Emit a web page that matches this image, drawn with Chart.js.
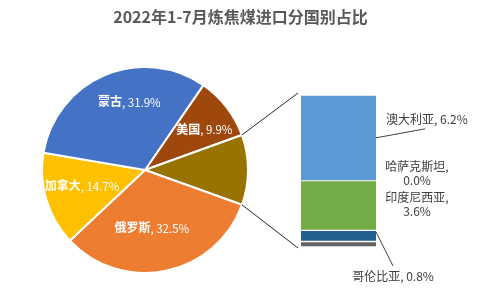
<!DOCTYPE html>
<html>
<head>
<meta charset="utf-8">
<script src="https://cdn.jsdelivr.net/npm/chart.js@4/dist/chart.umd.min.js"></script>
<style>
  html, body { margin: 0; padding: 0; background: #fff; }
  #wrap { position: relative; width: 481px; height: 308px; }
  #wrap canvas { position: absolute; left: 0; top: 0; }
</style>
</head>
<body>
<div id="wrap">
  <canvas id="pieChart" width="481" height="308" style="width:481px;height:308px"></canvas>
  <canvas id="barChart" width="481" height="308" style="width:481px;height:308px"></canvas>
</div>
<script>
const title = "2022年1-7月炼焦煤进口分国别占比";

// pie, clockwise from the 美国 slice
const pieLabels = ["美国", "其他", "俄罗斯", "加拿大", "蒙古"];
const pieValues = [9.9, 11.0, 32.5, 14.7, 31.9];
const pieColors = ["#9E480E", "#997300", "#ED7D31", "#FFC000", "#4472C4"];

// breakdown of 其他, top to bottom
const barLabels = ["澳大利亚", "哈萨克斯坦", "印度尼西亚", "哥伦比亚", "其余"];
const barValues = [6.2, 0.0, 3.6, 0.8, 0.4];
const barColors = ["#5B9BD5", "#A5A5A5", "#70AD47", "#255E91", "#636363"];

const FONT = '"Noto Sans CJK SC", "Noto Sans", sans-serif';

// where each pie label sits: share of the radius, and a turn in degrees
const pieLabelPos = {
  美国: { r: 0.70, turn: 3 },
  俄罗斯: { r: 0.56, turn: 5 },
  加拿大: { r: 0.63, turn: 3 },
  蒙古: { r: 0.68, turn: 10 },
};

const titlePlugin = {
  id: "drawTitle",
  afterDraw(chart) {
    const ctx = chart.ctx;
    ctx.save();
    ctx.font = "bold 16px " + FONT;
    ctx.fillStyle = "#595959";
    ctx.textAlign = "center";
    ctx.textBaseline = "middle";
    ctx.fillText(title, 240.5, 17);
    ctx.restore();
  },
};

const pieLabelPlugin = {
  id: "pieLabels",
  afterDraw(chart) {
    const ctx = chart.ctx;
    const meta = chart.getDatasetMeta(0);
    meta.data.forEach((arc, i) => {
      const pos = pieLabelPos[pieLabels[i]];
      if (!pos) return;
      const mid = (arc.startAngle + arc.endAngle) / 2 + (pos.turn * Math.PI) / 180;
      const r = arc.outerRadius * pos.r;
      const x = arc.x + Math.cos(mid) * r;
      const y = arc.y + Math.sin(mid) * r;
      const name = pieLabels[i];
      const val = ", " + pieValues[i].toFixed(1) + "%";
      ctx.save();
      ctx.fillStyle = "#fff";
      ctx.textBaseline = "middle";
      ctx.textAlign = "left";
      ctx.font = "bold 12px " + FONT;
      const w1 = ctx.measureText(name).width;
      ctx.font = "11.5px " + FONT;
      const w2 = ctx.measureText(val).width;
      const x0 = x - (w1 + w2) / 2;
      ctx.font = "bold 12px " + FONT;
      ctx.fillText(name, x0, y);
      ctx.font = "11.5px " + FONT;
      ctx.fillText(val, x0 + w1, y + 1);
      ctx.restore();
    });
  },
};

const pieChart = new Chart(document.getElementById("pieChart"), {
  type: "pie",
  data: {
    labels: pieLabels,
    datasets: [
      {
        data: pieValues,
        backgroundColor: pieColors,
        borderColor: "#fff",
        borderWidth: 2,
      },
    ],
  },
  options: {
    responsive: false,
    animation: false,
    rotation: 34.5,
    layout: { padding: { left: 41, right: 232, top: 66, bottom: 34 } },
    plugins: { legend: { display: false }, tooltip: { enabled: false } },
  },
  plugins: [pieLabelPlugin, titlePlugin],
});

function barEl(chart, name) {
  const idx = chart.data.datasets.findIndex((d) => d.label === name);
  return chart.getDatasetMeta(idx).data[0];
}

const barLabelPlugin = {
  id: "barLabels",
  afterDraw(chart) {
    const ctx = chart.ctx;
    ctx.save();
    ctx.font = "12px " + FONT;
    ctx.fillStyle = "#404040";
    ctx.strokeStyle = "#404040";
    ctx.lineWidth = 1;
    ctx.textBaseline = "middle";

    barLabels.forEach((name, i) => {
      if (name === "其余") return;
      const el = barEl(chart, name);
      const right = el.x + el.width / 2;
      const cy = (el.y + el.base) / 2;
      const val = barValues[i].toFixed(1) + "%";
      if (i === 0) {
        ctx.beginPath();
        ctx.moveTo(right, cy);
        ctx.lineTo(right + 49, cy - 9);
        ctx.stroke();
        ctx.textAlign = "left";
        ctx.fillText(name + ", " + val, right + 10, cy - 18);
      } else if (i === 3) {
        ctx.beginPath();
        ctx.moveTo(right, cy - 4);
        ctx.lineTo(right + 17, cy + 30);
        ctx.stroke();
        ctx.textAlign = "center";
        ctx.fillText(name + ", " + val, right + 17, cy + 40);
      } else {
        const off = barValues[i] === 0 ? -7 : -1;
        ctx.textAlign = "center";
        ctx.fillText(name + ",", right + 41, cy + off - 7);
        ctx.fillText(val, right + 41, cy + off + 7);
      }
    });

    // connector lines from the 其他 slice to the bar
    const arc = pieChart.getDatasetMeta(0).data[pieLabels.indexOf("其他")];
    const first = barEl(chart, barLabels[0]);
    const last = barEl(chart, barLabels[barLabels.length - 1]);
    const left = first.x - first.width / 2;
    const R = arc.outerRadius;
    ctx.strokeStyle = "#262626";
    ctx.beginPath();
    ctx.moveTo(arc.x + Math.cos(arc.startAngle) * R, arc.y + Math.sin(arc.startAngle) * R);
    ctx.lineTo(left - 3, first.y - 2);
    ctx.moveTo(arc.x + Math.cos(arc.endAngle) * R, arc.y + Math.sin(arc.endAngle) * R);
    ctx.lineTo(left - 3, last.base + 1);
    ctx.stroke();
    ctx.restore();
  },
};

const barTotal = barValues.reduce((a, b) => a + b, 0);

new Chart(document.getElementById("barChart"), {
  type: "bar",
  data: {
    labels: [""],
    datasets: barLabels
      .map((l, i) => ({
        label: l,
        data: [barValues[i]],
        backgroundColor: barColors[i],
        borderColor: "#fff",
        borderWidth: { top: 1, bottom: 1, left: 0, right: 0 },
        borderSkipped: false,
        barPercentage: 1,
        categoryPercentage: 1,
      }))
      .reverse(),
  },
  options: {
    responsive: false,
    animation: false,
    layout: { padding: { left: 301, right: 105, top: 95, bottom: 61 } },
    scales: {
      x: { display: false, stacked: true },
      y: { display: false, stacked: true, min: 0, max: barTotal },
    },
    plugins: { legend: { display: false }, tooltip: { enabled: false } },
  },
  plugins: [barLabelPlugin],
});
</script>
</body>
</html>
